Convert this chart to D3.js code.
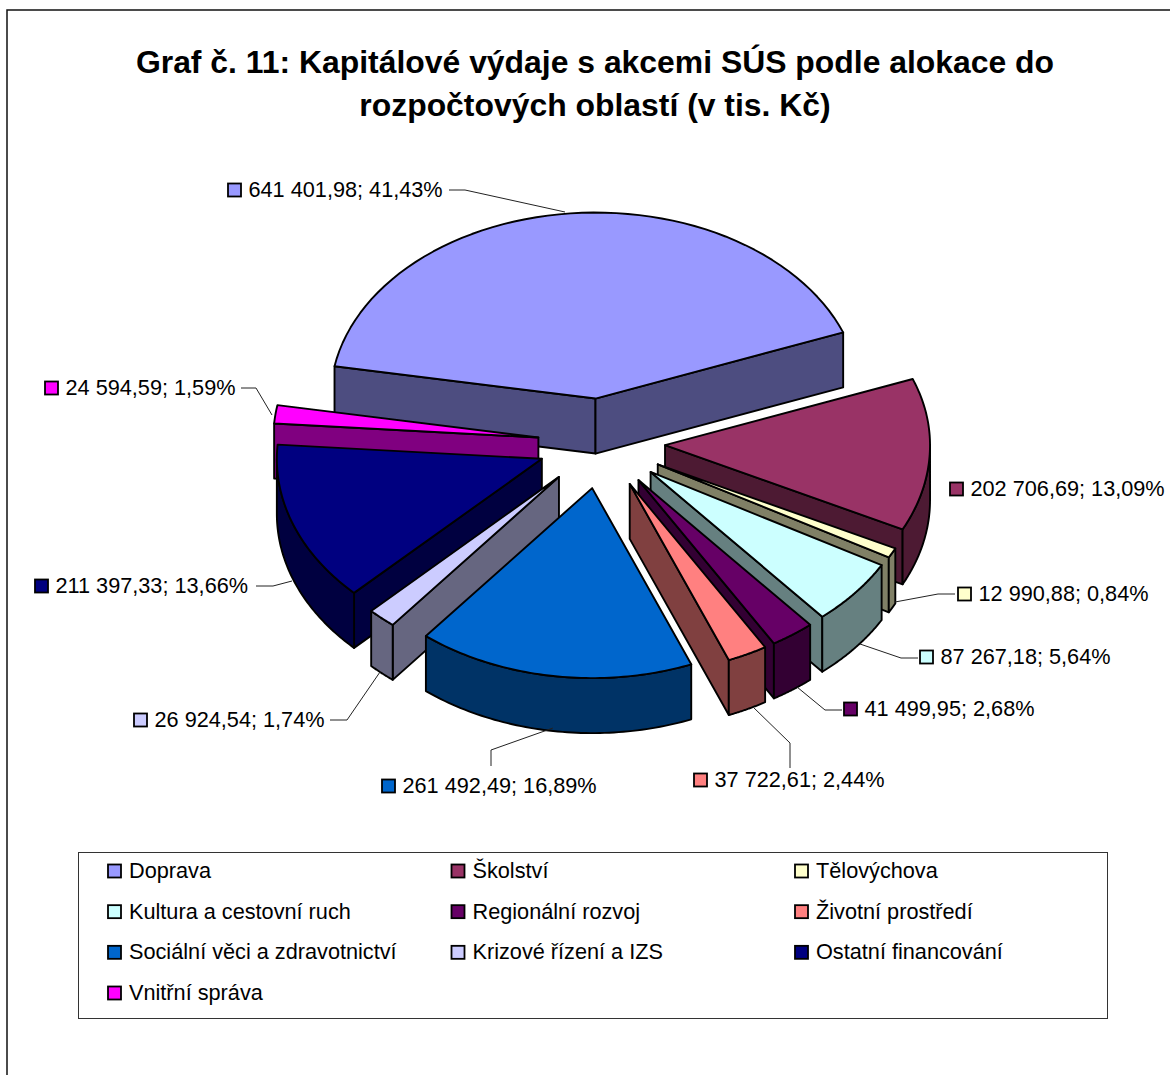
<!DOCTYPE html>
<html lang="cs">
  <head>
    <meta charset="utf-8">
    <title>Graf č. 11</title>
    <script src="https://cdnjs.cloudflare.com/ajax/libs/d3/7.8.5/d3.min.js" charset="utf-8"></script>
    <style media="screen">
      html, body { margin: 0; background: white; }
      svg { display: block; }
      text { font-family: "Liberation Sans", Arial, sans-serif; fill: black; }
      .title { font-size: 31.9px; font-weight: bold; text-anchor: middle; }
      .lbl { font-size: 21.7px; }
      .face { stroke: black; stroke-width: 1.9px; stroke-linejoin: round; }
      .leader { fill: none; stroke: #222; stroke-width: 1px; }
      .swatch { stroke: black; stroke-width: 1.8px; }
    </style>
  </head>
  <body>
    <script type="text/javascript">
      const categories = ["Doprava", "Školství", "Tělovýchova", "Kultura a cestovní ruch", "Regionální rozvoj",
                          "Životní prostředí", "Sociální věci a zdravotnictví", "Krizové řízení a IZS",
                          "Ostatní financování", "Vnitřní správa"];
      const values = [641401.98, 202706.69, 12990.88, 87267.18, 41499.95, 37722.61, 261492.49, 26924.54, 211397.33, 24594.59];
      const titleLines = ["Graf č. 11: Kapitálové výdaje s akcemi SÚS podle alokace do", "rozpočtových oblastí (v tis. Kč)"];

      // top face and side face colours
      const topColors = ["#9999FF", "#993366", "#FFFFCC", "#CCFFFF", "#660066", "#FF8080", "#0066CC", "#CCCCFF", "#000080", "#FF00FF"];
      const sideColors = ["#4D4D80", "#4D1A33", "#808066", "#668080", "#330033", "#804040", "#003366", "#666680", "#000040", "#800080"];

      // data label layout: swatch left edge, row centre, and its leader line
      const labelX = [228, 950, 958, 920, 844, 694, 382, 134, 35, 45];
      const labelY = [190, 489, 594, 657, 709, 780, 786, 720, 586, 388];
      const leaders = [
        [[449, 190], [465, 190], [565, 212]],
        [],
        [[955, 594], [938, 594], [895, 602]],
        [[918, 658], [901, 658], [860, 644]],
        [[842, 710], [825, 710], [797, 687]],
        [[790, 768], [790, 743], [753, 707]],
        [[491, 766], [491, 750], [553, 728]],
        [[330, 720], [347, 720], [380, 672]],
        [[256, 586], [273, 586], [292, 581]],
        [[241, 388], [256, 388], [272, 415]]
      ];

      const w = 1170;
      const h = 1075;
      const cx = 601.5;
      const cy = 443;
      const rx = 265;
      const ryBack = 186;   // far half of the pie reads a little flatter
      const ryFront = 190;
      const depth = 55;
      const explode = 0.24;
      const rad = Math.PI / 180;

      const svg = d3.select("body").append("svg").attr("width", w).attr("height", h);

      // Outer frame runs off the right and bottom of the window.
      svg.append("rect")
         .attr("x", 7).attr("y", 10).attr("width", w).attr("height", h)
         .attr("fill", "white").attr("stroke", "#111").attr("stroke-width", 1.5);

      svg.selectAll(".title").data(titleLines).enter().append("text")
         .attr("class", "title")
         .attr("x", 595)
         .attr("y", (d, i) => 73 + i * 43)
         .text(d => d);

      // Pie angles, clockwise from the top.
      const pie = d3.pie().sort(null).startAngle(-80 * rad).endAngle(280 * rad);
      const arcs = pie(values).map((a, i) => Object.assign(a, { i: i, mid: (a.startAngle + a.endAngle) / 2 }));

      const xScale = d3.scaleLinear().domain([-1, 1]).range([cx - rx, cx + rx]);
      const yScale = d3.scaleLinear().domain([-1, 0, 1]).range([cy - ryBack, cy, cy + ryFront]);

      // Unit pie coordinates of a point on a slice, pushed out along its bisector.
      function point(mid, r, ang, drop) {
        const ux = explode * Math.sin(mid) + r * Math.sin(ang);
        const uy = -explode * Math.cos(mid) - r * Math.cos(ang);
        return [xScale(ux), yScale(uy) + drop];
      }

      const line = d3.line();
      const sweep = (a0, a1) => d3.range(0, 61).map(k => a0 + (a1 - a0) * k / 60);

      function radialWall(d, ang) {
        return line([point(d.mid, 0, ang, 0), point(d.mid, 1, ang, 0), point(d.mid, 1, ang, depth), point(d.mid, 0, ang, depth)]) + "Z";
      }

      function outerWall(d) {
        const a0 = Math.max(d.startAngle, 90 * rad);
        const a1 = Math.min(d.endAngle, 270 * rad);
        if (a1 <= a0) return null;
        const top = sweep(a0, a1).map(a => point(d.mid, 1, a, 0));
        const bottom = sweep(a1, a0).map(a => point(d.mid, 1, a, depth));
        return line(top.concat(bottom)) + "Z";
      }

      function topFace(d) {
        const rim = sweep(d.startAngle, d.endAngle).map(a => point(d.mid, 1, a, 0));
        return line([point(d.mid, 0, d.mid, 0)].concat(rim)) + "Z";
      }

      // Painter's order, back slices first.
      const ordered = arcs.slice().sort((a, b) => Math.cos(b.mid) - Math.cos(a.mid));
      const slices = svg.selectAll(".slice").data(ordered).enter().append("g").attr("class", "slice");

      slices.each(function(d) {
        const g = d3.select(this);
        const faces = [];
        if (Math.sin(d.startAngle) < 0) faces.push([radialWall(d, d.startAngle), sideColors[d.i]]);
        if (Math.sin(d.endAngle) > 0) faces.push([radialWall(d, d.endAngle), sideColors[d.i]]);
        const outer = outerWall(d);
        if (outer) faces.push([outer, sideColors[d.i]]);
        faces.push([topFace(d), topColors[d.i]]);
        g.selectAll("path").data(faces).enter().append("path")
         .attr("class", "face")
         .attr("d", f => f[0])
         .attr("fill", f => f[1]);
      });

      // Data labels.
      const nf = d3.formatLocale({ decimal: ",", thousands: " ", grouping: [3], currency: ["", ""] }).format(",.2f");
      const total = d3.sum(values);

      svg.selectAll(".leader").data(leaders).enter().append("path")
         .attr("class", "leader")
         .attr("d", d => d.length ? line(d) : null);

      const labels = svg.selectAll(".lbl-g").data(values).enter().append("g").attr("class", "lbl-g");
      labels.append("rect")
            .attr("class", "swatch")
            .attr("x", (d, i) => labelX[i]).attr("y", (d, i) => labelY[i] - 6.5)
            .attr("width", 13).attr("height", 13)
            .attr("fill", (d, i) => topColors[i]);
      labels.append("text")
            .attr("class", "lbl")
            .attr("x", (d, i) => labelX[i] + 20.5).attr("y", (d, i) => labelY[i] + 7)
            .text(d => nf(d) + "; " + nf(d / total * 100) + "%");

      // Legend.
      const legendCols = d3.scalePoint().domain([0, 1, 2]).range([108, 795]);
      const legendRows = d3.scalePoint().domain([0, 1, 2, 3]).range([871, 993]);

      svg.append("rect")
         .attr("x", 78.5).attr("y", 852.5).attr("width", 1029).attr("height", 166)
         .attr("fill", "white").attr("stroke", "#333").attr("stroke-width", 1);

      const legend = svg.selectAll(".legend").data(categories).enter().append("g")
         .attr("class", "legend")
         .attr("transform", (d, i) => "translate(" + legendCols(i % 3) + "," + legendRows(Math.floor(i / 3)) + ")");
      legend.append("rect")
            .attr("class", "swatch")
            .attr("x", 0).attr("y", -6.5).attr("width", 13).attr("height", 13)
            .attr("fill", (d, i) => topColors[i]);
      legend.append("text")
            .attr("class", "lbl")
            .attr("x", 21).attr("y", 7)
            .text(d => d);
    </script>
  </body>
</html>
